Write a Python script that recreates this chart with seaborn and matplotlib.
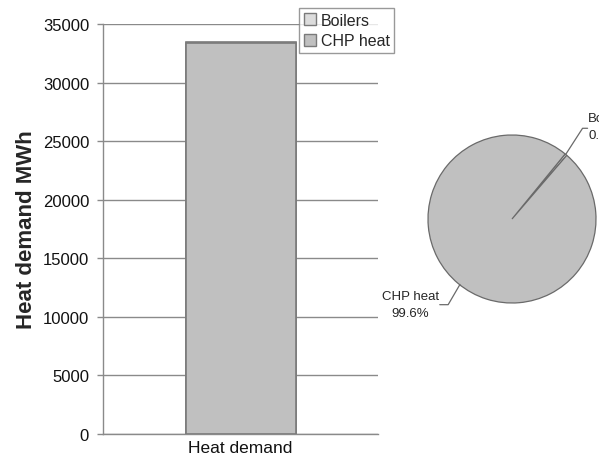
import numpy as np
import pandas as pd
import matplotlib
matplotlib.use("Agg")
import matplotlib.pyplot as plt
from matplotlib.patches import Patch
import seaborn as sns

# Heat supply split (MWh)
sources = ["Boilers", "CHP heat"]
heat_mwh = [134, 33366]
category = ["Heat demand"]
y_ticks = [0, 5000, 10000, 15000, 20000, 25000, 30000, 35000]

fill_chp = "#c0c0c0"
fill_boil = "#dcdcdc"
edge = "#7a7a7a"
grid_col = "#8a8a8a"

sns.set_theme(style="white")
plt.rcParams["font.family"] = ["Liberation Sans", "DejaVu Sans"]

fig = plt.figure(figsize=(5.99, 4.60), dpi=100)

# ---- stacked bar ----
ax = fig.add_axes([103 / 599, 25 / 460, 275 / 599, 410 / 460])
total = heat_mwh[0] + heat_mwh[1]
df_total = pd.DataFrame({"cat": category, "val": [total]})
df_chp = pd.DataFrame({"cat": category, "val": [heat_mwh[1]]})
sns.barplot(data=df_total, x="cat", y="val", color=fill_boil, edgecolor=edge,
            linewidth=1.2, width=0.4, saturation=1, ax=ax, zorder=3)
sns.barplot(data=df_chp, x="cat", y="val", color=fill_chp, edgecolor=edge,
            linewidth=1.2, width=0.4, saturation=1, ax=ax, zorder=3)

ax.set_xlim(-0.5, 0.5)
ax.set_ylim(0, 35000)
ax.set_yticks(y_ticks)
ax.set_yticklabels([str(t) for t in y_ticks], fontsize=12, color="#111111")
ax.yaxis.grid(True, color=grid_col, linewidth=1.0, zorder=0)
ax.set_axisbelow(True)
ax.tick_params(axis="y", which="major", direction="out", length=4.5, width=1,
               color=grid_col, pad=5.5, left=True)
ax.tick_params(axis="x", length=0, labelsize=12.5, pad=4, labelcolor="#111111")
ax.set_xlabel("")
ax.set_ylabel("Heat demand MWh", fontsize=16, fontweight="bold",
              labelpad=4)
for s in ["top", "right"]:
    ax.spines[s].set_visible(False)
for s in ["left", "bottom"]:
    ax.spines[s].set_color(grid_col)
    ax.spines[s].set_linewidth(1.0)

handles = [Patch(facecolor=fill_boil, edgecolor=edge, label=sources[0]),
           Patch(facecolor=fill_chp, edgecolor=edge, label=sources[1])]
leg = fig.legend(handles=handles, loc="upper left",
                 bbox_to_anchor=(299 / 599, 1 - 9 / 460), fontsize=11.5,
                 frameon=True, fancybox=False, borderpad=0.3,
                 handlelength=0.75, handleheight=0.75, handletextpad=0.3,
                 labelspacing=0.35, borderaxespad=0)
leg.get_frame().set_edgecolor("#808080")
leg.get_frame().set_linewidth(1.0)

# ---- pie ----
pax = fig.add_axes([428 / 599, 1 - 304 / 460, 168 / 599, 168 / 460])
shares = np.array(heat_mwh) / total * 100
pax.pie(heat_mwh, colors=[fill_boil, fill_chp], startangle=49.3,
        counterclock=True,
        wedgeprops=dict(edgecolor="#6a6a6a", linewidth=0.9))
pax.set_xlim(-1.0, 1.0)
pax.set_ylim(-1.0, 1.0)
pax.axis("off")

# leader lines and labels
pax.plot([0.64, 0.84, 0.90], [0.77, 1.08, 1.08], color="#6a6a6a", lw=0.9,
         clip_on=False)
pax.text(0.905, 1.10, f"{sources[0]}\n{shares[0]:.1f}%", fontsize=9.5,
         ha="left", va="center", linespacing=1.5, clip_on=False)
pax.plot([-0.62, -0.76, -0.86], [-0.78, -1.02, -1.02], color="#6a6a6a",
         lw=0.9, clip_on=False)
pax.text(-1.21, -1.02, f"{sources[1]}\n{shares[1]:.1f}%", fontsize=9.5,
         ha="center", va="center", linespacing=1.5, clip_on=False)

fig.savefig("out.png", dpi=100, facecolor="white")
